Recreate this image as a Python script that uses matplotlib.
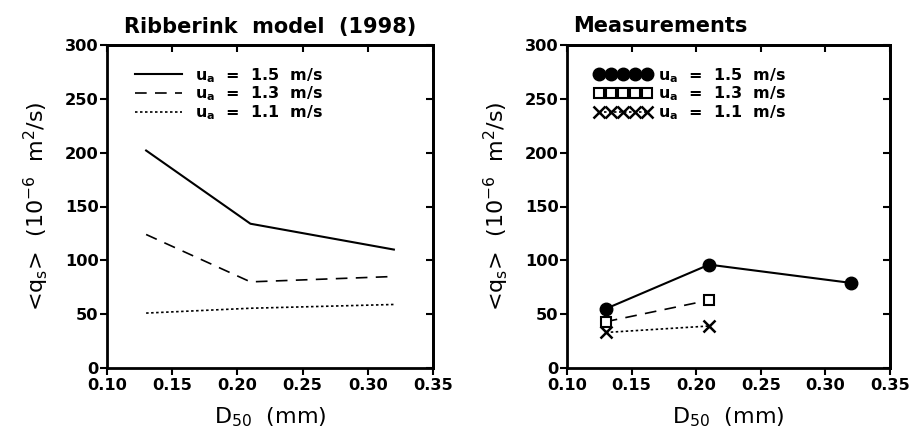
import matplotlib
matplotlib.use("Agg")
import matplotlib.pyplot as plt

plt.rcParams['font.family'] = ['DejaVu Sans']
plt.rcParams['font.weight'] = 'bold'
plt.rcParams['mathtext.default'] = 'regular'

# ---- data ----
d50_model = [0.13, 0.21, 0.32]
model_15 = [202, 134, 110]
model_13 = [124, 80, 85]
model_11 = [51, 55.5, 59]

d50_meas_15 = [0.13, 0.21, 0.32]
meas_15 = [55, 96, 79]
d50_meas_13 = [0.13, 0.21]
meas_13 = [43, 63]
d50_meas_11 = [0.13, 0.21]
meas_11 = [33, 39]

labels = ['u$_a$  =  1.5  m/s', 'u$_a$  =  1.3  m/s', 'u$_a$  =  1.1  m/s']
xticks = [0.10, 0.15, 0.20, 0.25, 0.30, 0.35]
yticks = [0, 50, 100, 150, 200, 250, 300]

W, H = 912, 434
fig = plt.figure(figsize=(W/100, H/100), dpi=100)
ax1 = fig.add_axes([107/W, (H-368)/H, 326/W, 323/H])
ax2 = fig.add_axes([567/W, (H-368)/H, 323/W, 323/H])

ylab = '<q$_s$>  (10$^{-6}$  m$^2$/s)'
xlab = 'D$_{50}$  (mm)'

def style(ax):
    ax.set_xlim(0.10, 0.35)
    ax.set_ylim(0, 300)
    ax.set_xticks(xticks)
    ax.set_xticklabels([f'{v:.2f}' for v in xticks])
    ax.set_yticks(yticks)
    ax.set_yticklabels([str(v) for v in yticks])
    ax.tick_params(direction='out', length=5, width=1.5, labelsize=11.7, pad=1)
    ax.tick_params(axis='x', pad=2)
    for s in ax.spines.values():
        s.set_linewidth(2)
    sx = ax.secondary_xaxis('top')
    sx.set_xticks(xticks)
    sx.tick_params(direction='in', length=5, width=1.5, labeltop=False)
    sx.spines['top'].set_linewidth(2)
    sy = ax.secondary_yaxis('right')
    sy.set_yticks(yticks)
    sy.tick_params(direction='in', length=5, width=1.5, labelright=False)
    sy.spines['right'].set_linewidth(2)
    ax.set_xlabel(xlab, fontsize=16, labelpad=9)
    ax.set_ylabel(ylab, fontsize=16, labelpad=10)

style(ax1)
style(ax2)

ax1.plot(d50_model, model_15, color='black', lw=1.5, linestyle='-', label=labels[0])
ax1.plot(d50_model, model_13, color='black', lw=1.2, linestyle=(0, (7, 5)), label=labels[1])
ax1.plot(d50_model, model_11, color='black', lw=1.2, linestyle=(0, (1.5, 1.5)), label=labels[2])
ax1.set_title('Ribberink  model  (1998)', fontsize=15, pad=9, fontweight='bold')
ax1.legend(loc='upper left', bbox_to_anchor=(0.065, 0.955), frameon=False, fontsize=11.5,
           handlelength=3.0, handletextpad=0.8, labelspacing=0.0, borderaxespad=0)

ax2.plot(d50_meas_15, meas_15, color='black', lw=1.5, linestyle='-', marker='o',
         markersize=9, markerfacecolor='black', label=labels[0])
ax2.plot(d50_meas_13, meas_13, color='black', lw=1.2, linestyle=(0, (7, 5)), marker='s',
         markersize=7, markerfacecolor='white', markeredgewidth=1.5, label=labels[1])
ax2.plot(d50_meas_11, meas_11, color='black', lw=1.2, linestyle=(0, (1.5, 1.5)), marker='x',
         markersize=8, markeredgewidth=1.8, label=labels[2])
ax2.set_title('Measurements', fontsize=15, pad=9, loc='left', x=0.02, fontweight='bold')
ax2.legend(loc='upper left', bbox_to_anchor=(0.065, 0.955), frameon=False, fontsize=11.5,
           numpoints=5, handlelength=3.6, handletextpad=0.4, labelspacing=0.0,
           borderaxespad=0)

fig.savefig('out.png', dpi=100)
